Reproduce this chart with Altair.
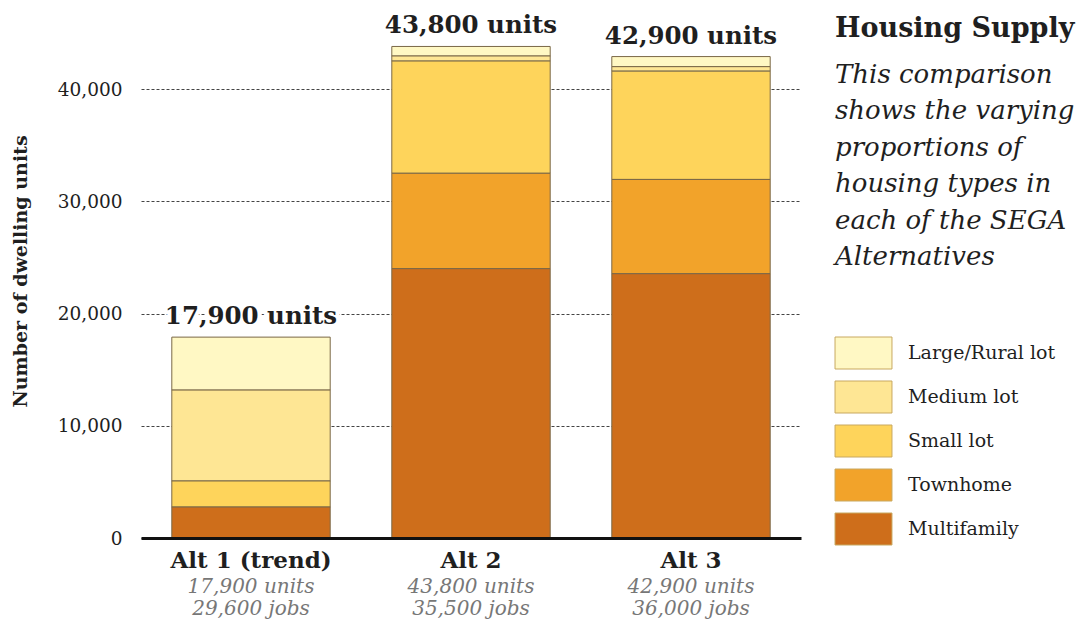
import altair as alt
import pandas as pd

# ---- data ----
alts = ["Alt 1 (trend)", "Alt 2", "Alt 3"]
types = ["Large/Rural lot", "Medium lot", "Small lot", "Townhome", "Multifamily"]
colors = ["#FFF8C4", "#FEE694", "#FED45B", "#F2A32A", "#CE6E1B"]
large_lot = [4720, 850, 900]
medium_lot = [8100, 450, 400]
small_lot = [2320, 10000, 9650]
townhome = [0, 8500, 8400]
multifamily = [2760, 24000, 23550]
total_units = [17900, 43800, 42900]
total_jobs = [29600, 35500, 36000]
y_ticks = [0, 10000, 20000, 30000, 40000]
header_title = "Housing Supply"
header_sub = ["This comparison", "shows the varying", "proportions of",
              "housing types in", "each of the SEGA", "Alternatives"]

series = [large_lot, medium_lot, small_lot, townhome, multifamily]
rows = []
for t, vals in zip(types, series):
    for a, v in zip(alts, vals):
        if v > 0:
            rows.append({"alt": a, "type": t, "units": v,
                         "stack": len(types) - 1 - types.index(t)})
df = pd.DataFrame(rows)
tot = pd.DataFrame({
    "alt": alts,
    "total": total_units,
    "label": [f"{u:,} units" for u in total_units],
    "jobs": [f"{j:,} jobs" for j in total_jobs],
})

W, H = 660, 505
FONT = "DejaVu Serif"
TXT = "#1f1f1f"
ytitle = "Number of dwelling units"
yscale = alt.Scale(domain=[0, 45000], nice=False)
xscale = alt.Scale(paddingInner=0.28, paddingOuter=0.14)


def xenc(with_axis=False):
    if with_axis:
        return alt.X("alt:N", sort=alts, scale=xscale, title=None,
                     axis=alt.Axis(labelFont=FONT, labelFontWeight="bold",
                                   labelFontSize=23, labelColor=TXT,
                                   labelPadding=11, ticks=False,
                                   domainColor="#111", domainWidth=3,
                                   labelAngle=0, labelLimit=0, zindex=1))
    return alt.X("alt:N", sort=alts, scale=xscale, title=None)


bars = alt.Chart(df).mark_bar(stroke="#7a6848", strokeWidth=1).encode(
    x=xenc(True),
    y=alt.Y("units:Q", stack="zero", scale=yscale, title=ytitle,
            axis=alt.Axis(values=y_ticks, format=",.0f", grid=True,
                          gridDash=[3, 2], gridColor="#444", gridWidth=1,
                          domain=False, ticks=False, labelFont=FONT,
                          labelFontSize=18.5, labelColor=TXT, labelPadding=19,
                          titleFont=FONT, titleFontWeight="bold",
                          titleFontSize=19, titleColor=TXT, titlePadding=27,
                          titleY=238)),
    color=alt.Color("type:N", scale=alt.Scale(domain=types, range=colors),
                    legend=alt.Legend(title=None, orient="none", legendX=706,
                                      legendY=303.5,
                                      symbolType="M-1.78,-1H1.78V1H-1.78Z",
                                      symbolSize=1024,
                                      symbolStrokeColor="#c8a860",
                                      symbolStrokeWidth=1,
                                      labelFont=FONT, labelFontSize=19,
                                      labelColor=TXT, labelOffset=28,
                                      rowPadding=7, padding=0)),
    order=alt.Order("stack:Q", sort="ascending"),
)

halo = alt.Chart(tot).mark_text(
    font=FONT, fontWeight="bold", fontSize=24.5, fill="white", stroke="white",
    strokeWidth=8, strokeJoin="round", baseline="alphabetic", dy=-13,
).encode(x=xenc(), y=alt.Y("total:Q", scale=yscale, title=ytitle),
         text="label:N")

toplab = alt.Chart(tot).mark_text(
    font=FONT, fontWeight="bold", fontSize=24.5, color=TXT,
    baseline="alphabetic", dy=-13,
).encode(x=xenc(), y=alt.Y("total:Q", scale=yscale, title=ytitle),
         text="label:N")

units_txt = alt.Chart(tot).mark_text(
    font=FONT, fontStyle="italic", fontSize=20, color="#777777",
    baseline="alphabetic", dy=55,
).encode(x=xenc(), y=alt.datum(0), text="label:N")

jobs_txt = alt.Chart(tot).mark_text(
    font=FONT, fontStyle="italic", fontSize=20, color="#777777",
    baseline="alphabetic", dy=77,
).encode(x=xenc(), y=alt.datum(0), text="jobs:N")

head = alt.Chart(pd.DataFrame({"t": [header_title]})).mark_text(
    font=FONT, fontWeight="bold", fontSize=27, color=TXT, align="left",
    baseline="alphabetic",
).encode(x=alt.value(694), y=alt.value(4), text="t:N")

sub = alt.Chart(pd.DataFrame({"t": ["\n".join(header_sub)]})).mark_text(
    font=FONT, fontStyle="italic", fontSize=26, color=TXT, align="left",
    baseline="alphabetic", lineBreak="\n", lineHeight=36.4,
).encode(x=alt.value(694), y=alt.value(50), text="t:N")

chart = alt.layer(bars, halo, toplab, units_txt, jobs_txt, head, sub).properties(
    width=W, height=H,
    padding={"left": 133, "top": 25, "right": 281, "bottom": 82},
    autosize=alt.AutoSizeParams(type="none"),
).configure_view(stroke=None)

chart.save("out.html", embed_options={"renderer": "svg", "actions": False})
